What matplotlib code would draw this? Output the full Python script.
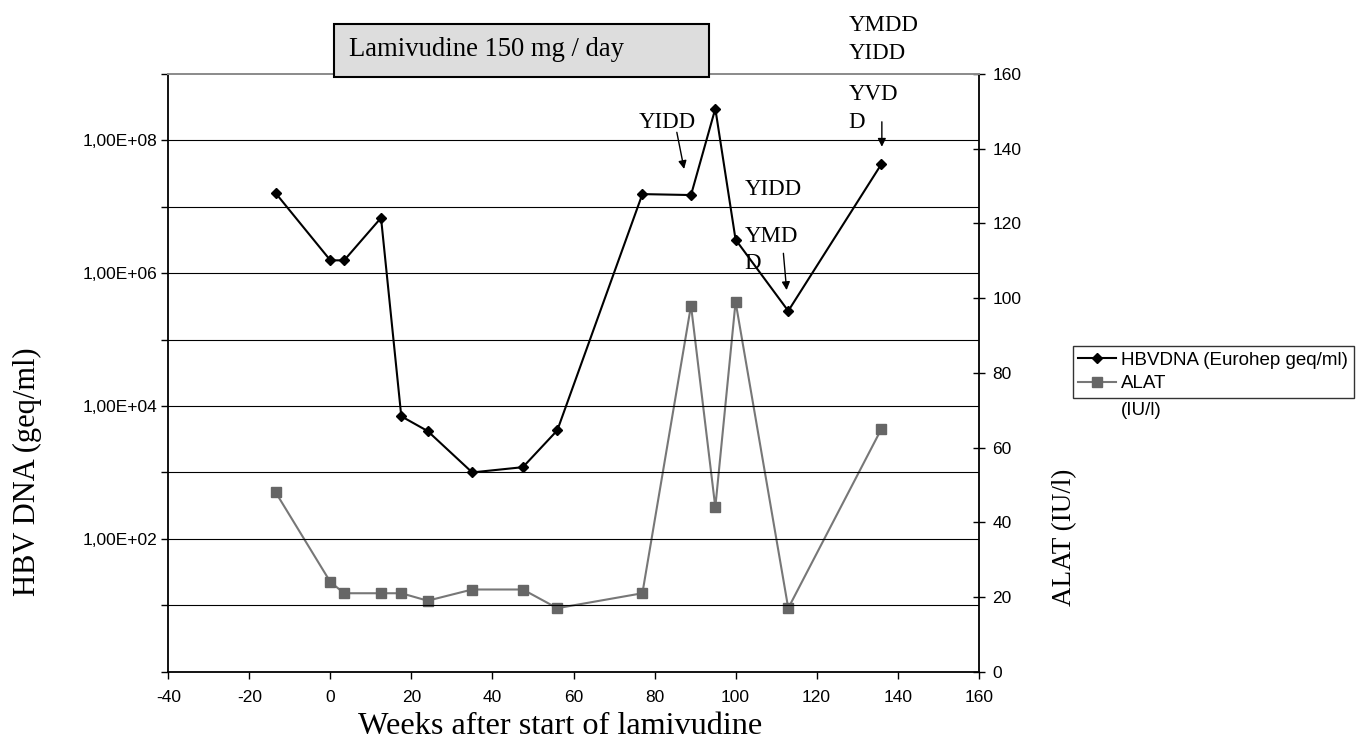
import math
import matplotlib
matplotlib.use("Agg")
import matplotlib.pyplot as plt
import matplotlib.ticker as mticker
import matplotlib.transforms as mtransforms
from matplotlib.patches import Rectangle
from matplotlib.lines import Line2D

# Weeks relative to the start of lamivudine therapy
weeks = [-13.5, 0, 3.4, 12.5, 17.5, 24, 35, 47.5, 56, 77, 89, 95, 100, 113, 136]
# HBV DNA load (Eurohep geq/ml)
hbv_dna = [1.6e7, 1.56e6, 1.56e6, 6.8e6, 7.0e3, 4.2e3, 1.0e3, 1.2e3, 4.3e3,
           1.55e7, 1.5e7, 3.0e8, 3.2e6, 2.7e5, 4.4e7]
# ALAT (IU/l)
alat = [48, 24, 21, 21, 21, 19, 22, 22, 17, 21, 98, 44, 99, 17, 65]

x_ticks = [-40, -20, 0, 20, 40, 60, 80, 100, 120, 140, 160]
alat_ticks = [0, 20, 40, 60, 80, 100, 120, 140, 160]

SERIF = ["Liberation Serif", "DejaVu Serif"]
SANS = ["Liberation Sans", "DejaVu Sans"]
plt.rcParams["font.family"] = SANS

W, H = 1364, 745
fig = plt.figure(figsize=(W / 100, H / 100), dpi=100)
fig.patch.set_facecolor("white")

left_px, right_px, top_px, bottom_px = 168.3, 978.7, 73.9, 671.7
ax = fig.add_axes([left_px / W, 1 - bottom_px / H,
                   (right_px - left_px) / W, (bottom_px - top_px) / H])
ax2 = ax.twinx()

# --- left axis: HBV DNA, log scale ---
ax.set_yscale("log")
ax.set_ylim(1, 1e9)
ax.set_xlim(-40, 160)
ax.set_xticks(x_ticks)
ax.set_xticklabels([str(v) for v in x_ticks], fontsize=12.5)
ax.yaxis.set_major_locator(mticker.FixedLocator([10.0 ** k for k in range(0, 10)]))
ax.yaxis.set_minor_locator(mticker.NullLocator())


def sci_label(v, pos):
    e = int(round(math.log10(v)))
    if e in (2, 4, 6, 8):
        return "1,00E+%02d" % e
    return ""


ax.yaxis.set_major_formatter(mticker.FuncFormatter(sci_label))
ax.tick_params(axis="y", which="major", direction="out", length=5, width=1,
               labelsize=12.5, pad=3)
ax.tick_params(axis="x", which="major", direction="out", length=5, width=1, pad=8)

for k in range(1, 9):
    ax.axhline(10.0 ** k, color="black", lw=0.8, zorder=0)

for s in ("left", "bottom"):
    ax.spines[s].set_color("black")
    ax.spines[s].set_linewidth(1.3)
ax.spines["top"].set_color("#8a8a8a")
ax.spines["top"].set_linewidth(1.4)
ax.spines["right"].set_visible(False)

# --- right axis: ALAT ---
ax2.set_ylim(0, 160)
ax2.set_yticks(alat_ticks)
ax2.set_yticklabels([str(v) for v in alat_ticks], fontsize=12.5)
ax2.tick_params(axis="y", direction="inout", length=8, width=1, pad=6)
ax2.spines["right"].set_color("black")
ax2.spines["right"].set_linewidth(1.3)
for s in ("top", "left", "bottom"):
    ax2.spines[s].set_visible(False)

ax2.plot(weeks, alat, color="#777777", lw=1.5, marker="s", markersize=7.5,
         markerfacecolor="#666666", markeredgecolor="#666666", zorder=3)
ax.plot(weeks, hbv_dna, color="black", lw=1.5, marker="D", markersize=5.5,
        markerfacecolor="black", markeredgecolor="black", zorder=4)
ax.set_zorder(ax2.get_zorder() + 1)
ax.patch.set_visible(False)

# --- axis titles ---
fig.text(560 / W, 1 - 727 / H, "Weeks after start of lamivudine",
         fontsize=23.2, family=SERIF, ha="center", va="center")
fig.text(27 / W, 1 - 472 / H, "HBV DNA (geq/ml)", rotation=90, fontsize=22,
         family=SERIF, ha="center", va="center")
fig.text(1065 / W, 1 - 537 / H, "ALAT (IU/l)", rotation=90, fontsize=19.5,
         family=SERIF, ha="center", va="center")

# --- treatment period box ---
trans = mtransforms.blended_transform_factory(ax.transData, ax.transAxes)
box = Rectangle((1.0, 0.9956), 92.5, 0.088, transform=trans,
                facecolor="#dddddd", edgecolor="black", lw=1.5,
                clip_on=False, zorder=10)
ax.add_patch(box)
ax.text(4.5, 1.04, "Lamivudine 150 mg / day", transform=trans,
        fontsize=19.2, family=SERIF, ha="left", va="center", zorder=11,
        clip_on=False)

# --- mutation annotations ---
ann_font = dict(fontsize=16.5, family=SERIF, ha="left", va="center",
                linespacing=1.4)
ax.text(76.0, 1.87e8, "YIDD", **ann_font)
ax.text(102.2, 1.79e7, "YIDD", **ann_font)
ax.text(102.2, 2.25e6, "YMD\nD", **ann_font)
ax.text(127.9, 3.0e8, "YVD\nD", **ann_font)
ax.text(127.9, 3.3e9, "YMDD\nYIDD", **ann_font)

arrow_kw = dict(arrowstyle="-|>", color="black", lw=1.0, mutation_scale=12,
                shrinkA=0, shrinkB=0)
ax.annotate("", xy=(87.3, 3.7e7), xytext=(85.5, 1.32e8), arrowprops=arrow_kw)
ax.annotate("", xy=(112.6, 5.56e5), xytext=(111.8, 1.99e6), arrowprops=arrow_kw)
ax.annotate("", xy=(136.1, 8.0e7), xytext=(136.1, 1.9e8), arrowprops=arrow_kw)

# --- legend ---
handles = [
    Line2D([], [], color="black", lw=1.5, marker="D", markersize=5.5,
           markerfacecolor="black"),
    Line2D([], [], color="#777777", lw=1.5, marker="s", markersize=7.5,
           markerfacecolor="#666666", markeredgecolor="#666666"),
]
leg = fig.legend(handles, ["HBVDNA (Eurohep geq/ml)", "ALAT"],
                 loc="upper left", bbox_to_anchor=(1072.7 / W, 1 - 346 / H),
                 borderaxespad=0, fontsize=13.5, frameon=True, fancybox=False,
                 handlelength=2.0, handletextpad=0.3, labelspacing=0.35,
                 borderpad=0.3, edgecolor="black")
leg.get_frame().set_linewidth(1.0)
fig.text(1121 / W, 1 - 411 / H, "(IU/l)", fontsize=13.5, ha="left", va="center")

fig.savefig("out.png", dpi=100, facecolor="white")
